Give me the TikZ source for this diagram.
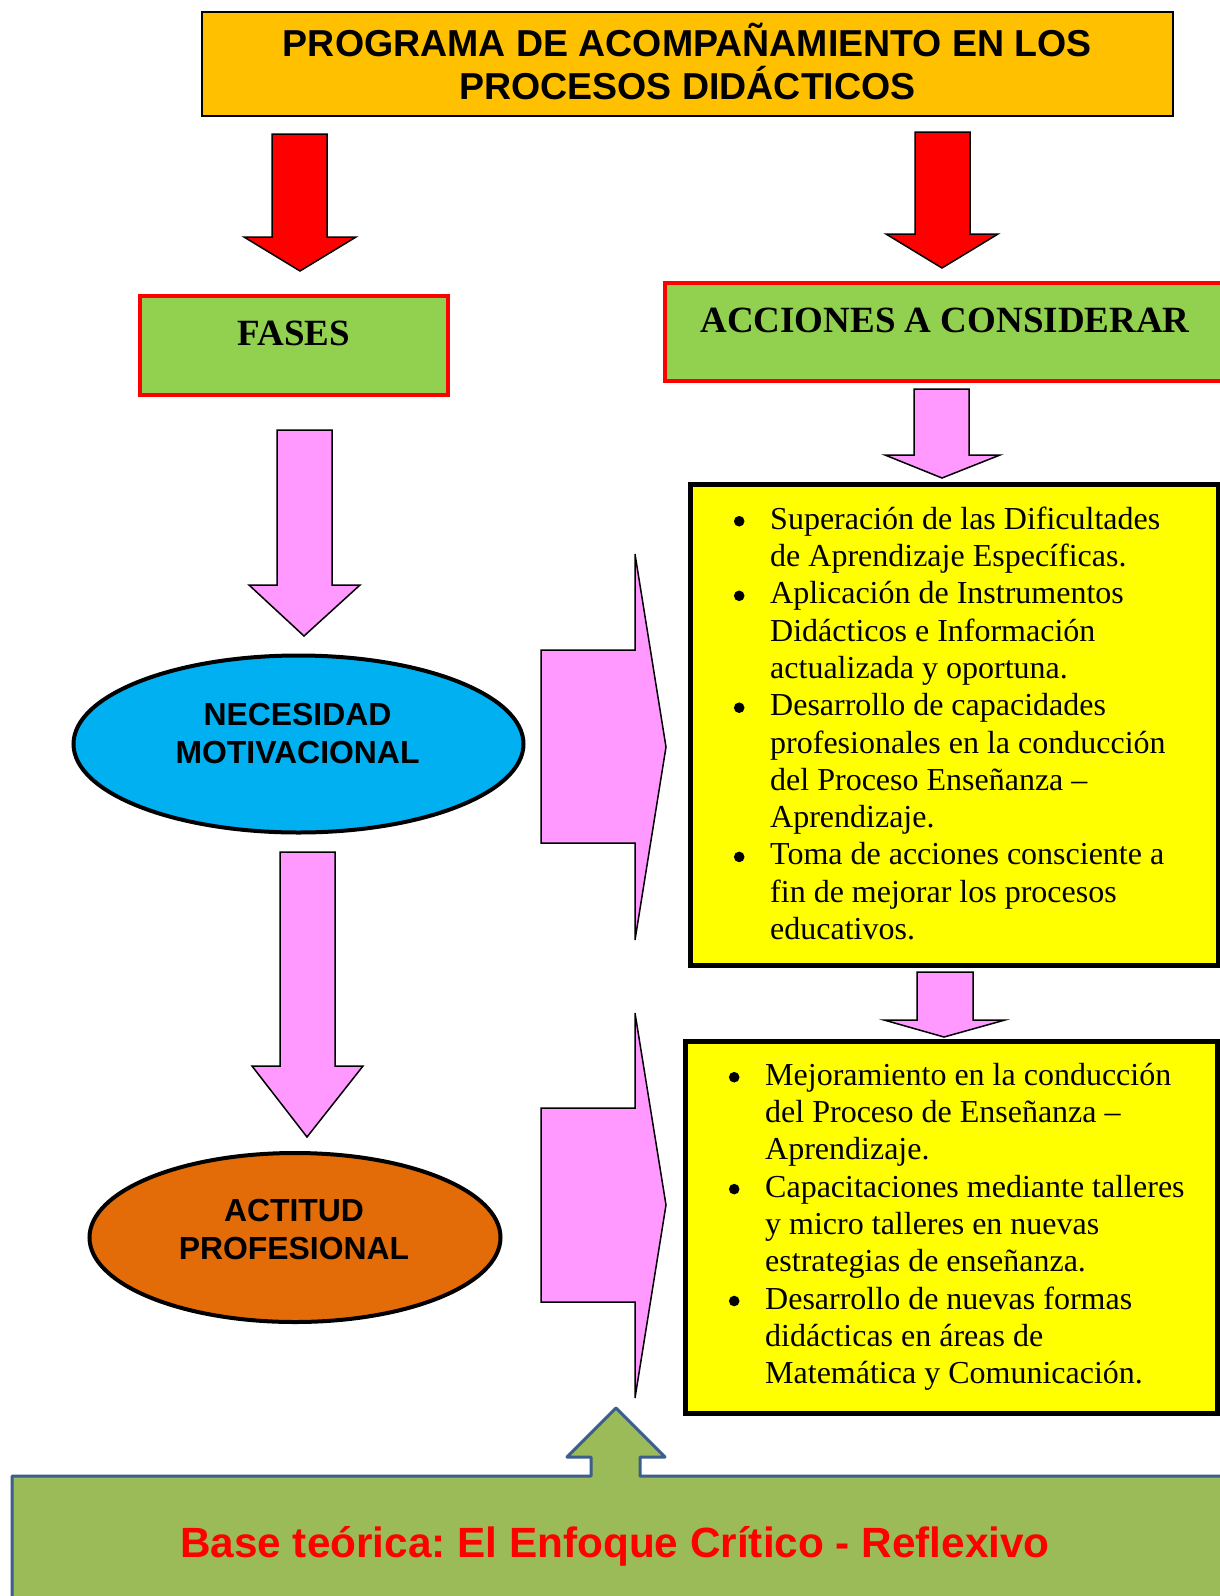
\documentclass[tikz,border=0pt]{standalone}
\usepackage{fontspec}
\setmainfont{Liberation Serif}
\newfontfamily\arialf{Liberation Sans}
\usetikzlibrary{shapes.geometric}
\definecolor{titleorange}{HTML}{FFC000}
\definecolor{fasegreen}{HTML}{92D050}
\definecolor{arrowpink}{HTML}{FF99FF}
\definecolor{boxyellow}{HTML}{FFFF00}
\definecolor{ellblue}{HTML}{00B0F0}
\definecolor{ellorange}{HTML}{E36C09}
\definecolor{basegreen}{HTML}{9BBB59}
\definecolor{baseblue}{HTML}{3B5E8C}
\definecolor{pured}{HTML}{FF0000}
\newcommand{\bulletdot}{\tikz[baseline=0pt]{\useasboundingbox (-5.3pt,0pt) rectangle (5.3pt,13pt);\fill[black] (0pt,8pt) circle[radius=5.3pt];}}
\begin{document}
\frenchspacing
\begin{tikzpicture}[x=1pt,y=-1pt,
  titlebox/.style={draw=black,line width=2pt,fill=titleorange,inner sep=0},
  fasebox/.style={draw=pured,line width=3.5pt,fill=fasegreen,inner sep=0},
  listbox/.style={draw=black,line width=5pt,fill=boxyellow,inner sep=0},
  ellnode/.style={ellipse,draw=black,line width=4pt,inner sep=0},
  redarrow/.style={draw=black,line width=1.5pt,fill=pured,line join=miter},
  pinkarrow/.style={draw=black,line width=1.5pt,fill=arrowpink,line join=miter},
  headsans/.style={font=\arialf\bfseries\fontsize{37.5}{43}\selectfont,inner sep=0,anchor=base},
  headserif/.style={font=\bfseries\fontsize{37}{43}\selectfont,inner sep=0},
  ellsans/.style={font=\arialf\bfseries\fontsize{31.9}{38}\selectfont,inner sep=0},
  listtext/.style={font=\fontsize{32}{37.3}\selectfont,inner sep=0,anchor=north west}
]
\useasboundingbox[fill=white] (0,0) rectangle (1220,1596);

% title
\node[titlebox,minimum width=971,minimum height=104] (title) at (687.5,63.5) {};
\node[headsans] (title1) at (687.5,56) {PROGRAMA DE ACOMPAÑAMIENTO EN LOS};
\node[headsans] (title2) at (687.5,99) {PROCESOS DIDÁCTICOS};

% red arrows
\draw[redarrow] (272,134) -- (327,134) -- (327,237) -- (356,237) -- (300,271) -- (244,237) -- (272,237) -- cycle;
\draw[redarrow] (915,132) -- (970,132) -- (970,234) -- (998,234) -- (942,268) -- (886,234) -- (915,234) -- cycle;

% FASES / ACCIONES
\node[fasebox,minimum width=308,minimum height=99] (fases) at (294,345.5) {};
\node[headserif,anchor=base] (fasestxt) at (294,345) {FASES};
\node[fasebox,minimum width=570,minimum height=98] (acciones) at (950,332) {};
\node[headserif,anchor=base] (accionestxt) at (945,332) {ACCIONES A CONSIDERAR};

% pink arrow below acciones
\draw[pinkarrow] (914,389) -- (969,389) -- (969,455) -- (1000,455) -- (942,478) -- (885,455) -- (914,455) -- cycle;

% left pink arrows
\draw[pinkarrow] (277,430) -- (332,430) -- (332,585) -- (360,585) -- (304,636) -- (249,585) -- (277,585) -- cycle;
\draw[pinkarrow] (280,852) -- (335,852) -- (335,1066) -- (363,1066) -- (307,1137) -- (252,1066) -- (280,1066) -- cycle;

% ellipses
\node[ellnode,fill=ellblue,minimum width=450,minimum height=177] (necesidad) at (298.5,744) {};
\node[ellsans,anchor=base] (nec1) at (297.5,725) {NECESIDAD};
\node[ellsans,anchor=base] (nec2) at (297.5,763) {MOTIVACIONAL};
\node[ellnode,fill=ellorange,minimum width=411,minimum height=169] (actitud) at (295,1237.5) {};
\node[ellsans,anchor=base] (act1) at (294,1221) {ACTITUD};
\node[ellsans,anchor=base] (act2) at (294,1259) {PROFESIONAL};

% big right arrows
\draw[pinkarrow] (541,650) -- (635,650) -- (635,554) -- (666,747) -- (635,940) -- (635,843) -- (541,843) -- cycle;
\draw[pinkarrow] (541,1108) -- (635,1108) -- (635,1013) -- (666,1205) -- (635,1398) -- (635,1302) -- (541,1302) -- cycle;

% yellow list boxes
\node[listbox,minimum width=528,minimum height=481] (lista) at (954,725) {};
\node[listtext] (listatxt) at (733.7,502.9) {\renewcommand{\arraystretch}{1}%
\begin{tabular}{@{}p{36.3pt}@{}l@{}}
\bulletdot & Superación de las Dificultades\\
 & de Aprendizaje Específicas.\\
\bulletdot & Aplicación de Instrumentos\\
 & Didácticos e Información\\
 & actualizada y oportuna.\\
\bulletdot & Desarrollo de capacidades\\
 & profesionales en la conducción\\
 & del Proceso Enseñanza –\\
 & Aprendizaje.\\
\bulletdot & Toma de acciones consciente a\\
 & fin de mejorar los procesos\\
 & educativos.
\end{tabular}};

\draw[pinkarrow] (917,972) -- (973,972) -- (973,1020) -- (1005,1020) -- (944,1037) -- (884,1020) -- (917,1020) -- cycle;

\node[listbox,minimum width=532,minimum height=372] (listb) at (951.5,1227.5) {};
\node[listtext] (listbtxt) at (728.7,1058.9) {\renewcommand{\arraystretch}{1}%
\begin{tabular}{@{}p{36.3pt}@{}l@{}}
\bulletdot & Mejoramiento en la conducción\\
 & del Proceso de Enseñanza –\\
 & Aprendizaje.\\
\bulletdot & Capacitaciones mediante talleres\\
 & y micro talleres en nuevas\\
 & estrategias de enseñanza.\\
\bulletdot & Desarrollo de nuevas formas\\
 & didácticas en áreas de\\
 & Matemática y Comunicación.
\end{tabular}};

% base callout
\draw[draw=baseblue,fill=basegreen,line width=3pt,line join=round]
  (12,1476) -- (591,1476) -- (591,1457) -- (567,1457) -- (616,1408) -- (665,1457)
  -- (640,1457) -- (640,1476) -- (1230,1476) -- (1230,1610) -- (12,1610) -- cycle;
\node[font=\arialf\bfseries\fontsize{42.3}{50}\selectfont,text=pured,inner sep=0,anchor=base] (basetxt) at (615,1557) {Base teórica: El Enfoque Crítico - Reflexivo};
\end{tikzpicture}
\end{document}
